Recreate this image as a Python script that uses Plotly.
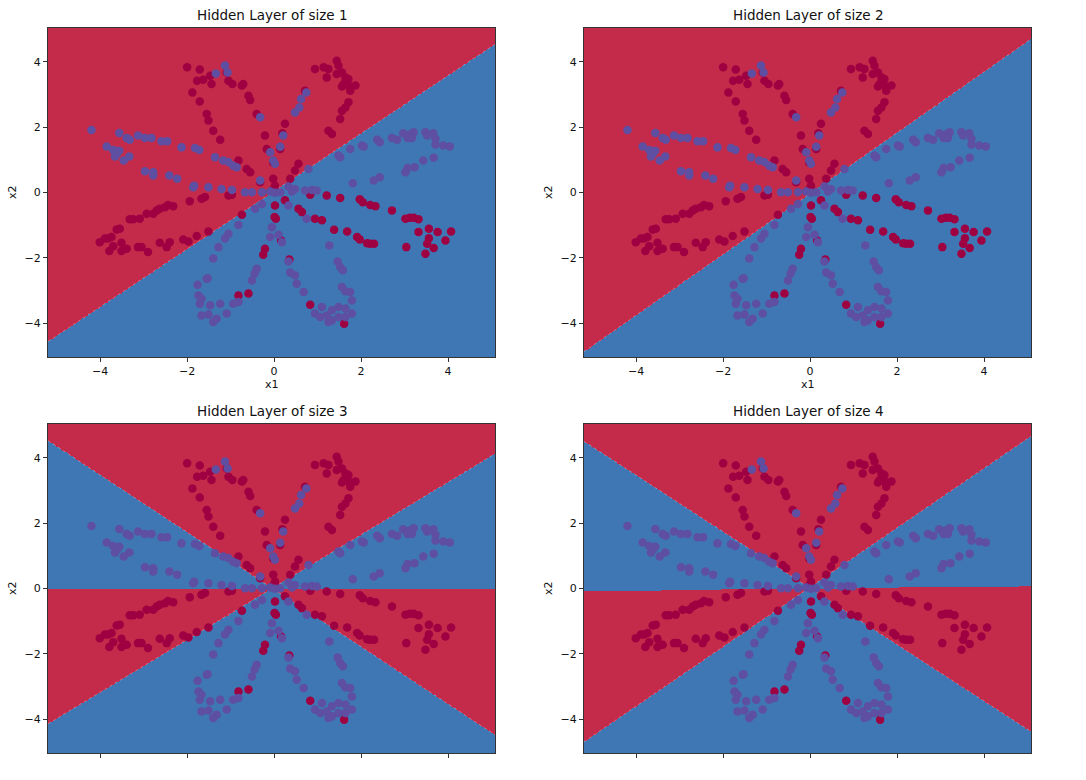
import numpy as np
import plotly.graph_objects as go

# ---------------- data ----------------
red_x = [-2.00, -1.71, -1.77, -1.63, -1.88, -1.71, -1.55, -1.51,
         -1.47, -1.44, -1.40, -1.24, -1.09, -1.05, -0.96, -0.74, -0.71, -0.59, -0.55, -0.40,
         -0.21, -0.17, -0.02, -0.82, -0.63, -0.55, -0.32, -0.02, 0.02, 0.37, 0.48, 0.56,
         0.25, 0.19, 0.14, 0.71, 0.94,
         1.14, 1.25, 1.44, 1.48, 1.44, 1.56, 1.64, 1.71, 1.21, 1.60, 1.56, 1.71, 1.87, 1.75,
         1.71, 1.64, 1.56, 1.52, 1.25, 1.33,
         -1.94, -1.67, -1.59, -2.32, -2.44, -2.51, -2.63, -2.70, -2.78, -2.93, -3.09, -3.24,
         -3.32, -3.55, -3.62, -3.74, -3.82, -3.89, -4.01, -3.70, -3.79, -3.51, -3.39, -3.51,
         -3.13, -3.05, -2.90, -2.63, -2.47, -2.40, -2.09, -1.97, -1.78, -1.51,
         -1.05, -0.97, -0.74, -0.21, -0.25, -0.82, -0.59, 0.02, 0.01, 0.04, 0.25, 0.16, 0.35,
         0.56, 0.64, 0.83, 0.94, 1.10, 0.83, -0.02,
         1.21, 1.52, 1.97, 2.04, 2.21, 2.33, 2.71, 3.02, 3.12, 3.21, 3.32, 1.38, 1.68,
         1.91, 1.97, 2.14, 2.21, 2.30, 3.04, 3.32, 3.56, 3.76, 4.07, 3.56, 3.52, 3.67, 3.94,
         3.48, 1.61]
red_y = [3.83, 3.76, 3.42, 3.45, 3.06, 2.78, 2.40, 2.20,
         3.57, 3.32, 1.89, 1.61, 3.67, 3.42, 3.32, 3.27, 3.32, 2.96, 2.83, 2.40,
         1.74, 1.33, 0.92, 0.98, 0.72, 0.62, 0.31, 0.42, 0.21, 0.42, 0.67, 0.88,
         2.10, 1.81, 1.33, 3.11, 3.78,
         3.83, 3.78, 4.03, 3.88, 3.62, 3.67, 3.52, 3.47, 3.52, 3.32, 3.24, 3.27, 3.27, 3.11,
         2.76, 2.60, 2.50, 2.25, 1.89, 1.79,
         -0.27, -0.19, -0.14, -0.42, -0.38, -0.45, -0.50, -0.55, -0.65, -0.65, -0.80, -0.82,
         -0.82, -1.11, -1.13, -1.36, -1.41, -1.41, -1.52, -1.64, -1.79, -1.54, -1.72, -1.79,
         -1.67, -1.67, -1.82, -1.54, -1.67, -1.52, -1.44, -1.50, -1.33, -1.19,
         -0.09, -0.07, -0.68, -1.72, -1.90, -3.15, -3.09, -0.40, -0.75, -0.80, -0.24, -1.47, -2.05,
         -0.50, -0.60, -0.07, -0.80, -0.85, -3.43, 0.09,
         -0.09, -0.17, -0.21, -0.30, -0.38, -0.42, -0.55, -0.80, -0.77, -0.77, -0.82, -1.14, -1.19,
         -1.36, -1.44, -1.55, -1.57, -1.57, -1.67, -1.21, -1.11, -1.21, -1.19, -1.40, -1.57, -1.70, -1.47,
         -1.87, -4.01]

blue_x = [-4.20, -3.56, -3.39, -3.32, -3.13, -2.97, -2.82, -2.59, -2.46, -2.13, -1.82, -1.72,
          -3.85, -3.70, -3.62, -3.56, -3.66, -3.33, -3.46, -2.97, -2.78, -2.78, -2.41, -2.23,
          -1.84, -1.51,
          -1.13, -1.34, -1.07, -0.32, 0.21, 0.14, -0.09, -0.02, 0.02, 0.48, 0.58, 0.62, 0.74,
          -1.36, -1.17, -1.05, -0.94, -0.86, -0.32, 0.79, -1.21, -0.97, -0.67, -0.51, -0.28,
          0.33, 0.48, 0.71, 0.87,
          1.48, 1.52, 1.75, 2.02, 2.06, 2.37, 2.43, 2.71, 2.83, 2.97, 3.07, 3.15, 3.21, 3.07,
          3.17, 3.48, 3.66, 3.52, 3.71, 3.71, 3.89, 4.04, 3.67, 3.43, 3.23, 3.07, 3.02, 2.43,
          2.29, 1.81,
          -1.86, -1.55, -1.51,
          -0.09, 0.02, 0.14, 0.41, 0.98, -0.28, -0.44, -0.82, -1.05, -1.13, -1.28, -1.40,
          -0.05, -0.09, 0.10, 0.18, 0.33, 0.37, 0.48, 0.52, 0.68, -0.40, -0.45, -0.51,
          -1.53, -1.76, -1.74, -1.67, -1.71, -1.47, -1.24, -0.94, -0.82, -1.67, -1.32, -1.09,
          -1.40, 0.75, 0.33, 0.94, 1.06,
          1.27, 1.46, 1.52, 1.58, 1.56, 1.64, 1.75, 1.79, 1.10, 1.33, 1.48, 1.64, 1.79, 1.21,
          1.33, 1.48, 1.64, 1.25]
blue_y = [1.91, 1.82, 1.67, 1.61, 1.74, 1.67, 1.67, 1.57, 1.57, 1.38, 1.36, 1.30,
          1.41, 1.30, 1.18, 1.28, 1.10, 1.10, 0.98, 0.65, 0.62, 0.52, 0.52, 0.42,
          0.21, 0.16,
          3.88, 3.64, 3.67, 2.30, 1.74, 1.40, 1.23, 0.98, 0.88, 2.45, 2.60, 2.86, 3.06,
          1.08, 0.98, 0.93, 0.82, 0.77, 0.37, 0.72, 0.11, 0.08, 0.01, 0.01, 0.01,
          0.18, 0.11, 0.06, 0.08,
          1.13, 1.08, 1.33, 1.44, 1.41, 1.61, 1.54, 1.67, 1.61, 1.81, 1.74, 1.79, 1.84, 1.67,
          1.67, 1.84, 1.81, 1.74, 1.64, 1.47, 1.44, 1.41, 1.06, 0.98, 0.77, 0.75, 0.62, 0.47,
          0.37, 0.28,
          0.16, -2.64, -3.73,
          0.03, -0.01, 0.01, 0.03, 0.06, -0.35, -0.50, -0.99, -1.26, -1.41, -1.67, -2.02,
          -1.06, -1.36, -1.29, -1.52, -2.11, -2.45, -2.53, -2.79, -3.04, -2.33, -2.48, -2.69,
          -2.62, -2.82, -3.15, -3.25, -3.40, -3.45, -3.40, -3.40, -3.35, -3.76, -3.86, -3.70,
          -3.96, -0.80, -0.40, -3.70, -3.81,
          -1.62, -2.11, -2.28, -2.38, -2.89, -3.02, -3.04, -3.30, -3.50, -3.60, -3.50, -3.55, -3.70, -3.76,
          -3.91, -3.81, -3.81, -3.96]

titles = ["Hidden Layer of size 1", "Hidden Layer of size 2",
          "Hidden Layer of size 3", "Hidden Layer of size 4"]
tick_vals = [-4, -2, 0, 2, 4]
x_range = [-5.2, 5.08]
y_range = [-5.03, 5.03]

# decision boundaries: (slope, intercept)
bound_1 = [(0.884, 0.04)]
bound_2 = [(0.93, -0.03)]
bound_3 = [(-0.875, -0.03), (0.803, 0.04), (0.0, 0.0)]
bound_4 = [(-0.863, 0.01), (0.909, 0.04), (0.0146, 0.0)]

RED_BG = "rgb(196,43,74)"
BLUE_BG = "rgb(63,119,181)"
RED_PT = "#9e0142"
BLUE_PT = "#5e4fa2"

gx = np.arange(x_range[0], x_range[1] + 0.02, 0.02)
gy = np.arange(y_range[0], y_range[1] + 0.02, 0.02)
XX, YY = np.meshgrid(gx, gy)


def region(bounds):
    if len(bounds) == 1:
        m, b = bounds[0]
        return (YY > m * XX + b).astype(np.uint8)
    (ma, ba), (mb, bb), (mh, bh) = bounds
    aboveA = YY > ma * XX + ba
    aboveB = YY > mb * XX + bb
    below_h = YY < mh * XX + bh
    red = (aboveA & aboveB) | (below_h & (aboveA | aboveB))
    return red.astype(np.uint8)


bounds_all = [bound_1, bound_2, bound_3, bound_4]

W, H = 1086, 780
dom_x = [[48 / W, 495 / W], [584 / W, 1031 / W]]
dom_y = [[1 - 357 / H, 1 - 28 / H], [1 - 753 / H, 1 - 424 / H]]

fig = go.Figure()
annotations = []
for i in range(4):
    row, col = divmod(i, 2)
    xa = "x" if i == 0 else f"x{i+1}"
    ya = "y" if i == 0 else f"y{i+1}"
    z = region(bounds_all[i])
    fig.add_trace(go.Heatmap(x=gx, y=gy, z=z, zmin=0, zmax=1,
                             colorscale=[[0, BLUE_BG], [1, RED_BG]], showscale=False,
                             hoverinfo="skip", xaxis=xa, yaxis=ya))
    # faint seam lines along the sloped boundaries
    for (m, b) in bounds_all[i]:
        if abs(m) < 0.1:
            continue
        lx = np.array(x_range)
        fig.add_trace(go.Scatter(x=lx, y=m * lx + b, mode="lines",
                                 line=dict(color="rgba(255,255,255,0.3)", width=1, dash="dot"),
                                 hoverinfo="skip", showlegend=False, xaxis=xa, yaxis=ya))
    fig.add_trace(go.Scatter(x=red_x, y=red_y, mode="markers",
                             marker=dict(color=RED_PT, size=8.5, line=dict(width=0)),
                             showlegend=False, xaxis=xa, yaxis=ya))
    fig.add_trace(go.Scatter(x=blue_x, y=blue_y, mode="markers",
                             marker=dict(color=BLUE_PT, size=8.5, line=dict(width=0)),
                             showlegend=False, xaxis=xa, yaxis=ya))

    axis_common = dict(showgrid=False, zeroline=False, showline=True, mirror=True,
                       linecolor="#333333", linewidth=1, ticks="outside", ticklen=4,
                       tickwidth=1, tickcolor="#333333", tickvals=tick_vals,
                       tickfont=dict(family="DejaVu Sans", size=11, color="#111111"))
    fig.update_layout(**{
        ("xaxis" if i == 0 else f"xaxis{i+1}"): dict(
            axis_common, domain=dom_x[col], range=x_range, anchor=ya,
            showticklabels=(row == 0)),
        ("yaxis" if i == 0 else f"yaxis{i+1}"): dict(
            axis_common, domain=dom_y[row], range=y_range, anchor=xa),
    })
    cx = (dom_x[col][0] + dom_x[col][1]) / 2
    annotations.append(dict(text=titles[i], x=cx, y=dom_y[row][1], xref="paper", yref="paper",
                            xanchor="center", yanchor="bottom", yshift=3, showarrow=False,
                            font=dict(family="DejaVu Sans", size=13.5, color="#111111")))
    if row == 0:
        annotations.append(dict(text="x1", x=cx, y=dom_y[row][0], xref="paper", yref="paper",
                                xanchor="center", yanchor="top", yshift=-19, showarrow=False,
                                font=dict(family="DejaVu Sans", size=11, color="#111111")))
    cy = (dom_y[row][0] + dom_y[row][1]) / 2
    annotations.append(dict(text="x2", x=dom_x[col][0], y=cy, xref="paper", yref="paper",
                            xanchor="right", yanchor="middle", xshift=-27, textangle=-90,
                            showarrow=False,
                            font=dict(family="DejaVu Sans", size=11, color="#111111")))

fig.update_layout(width=W, height=H, margin=dict(l=0, r=0, t=0, b=0),
                  paper_bgcolor="white", plot_bgcolor="white",
                  annotations=annotations, showlegend=False)
fig.write_html("out.html")
